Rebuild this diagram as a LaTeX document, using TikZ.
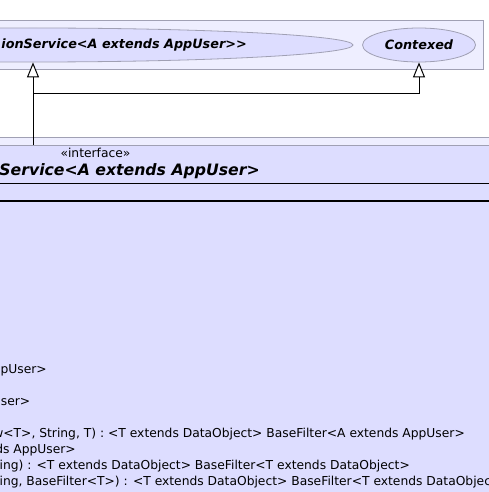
\documentclass[tikz,border=0pt]{standalone}
\usepackage{fontspec}
\setmainfont{DejaVu Sans}[Ligatures=TeXOff]
\usetikzlibrary{shapes.geometric,arrows.meta}
\definecolor{pkgfill}{RGB}{238,238,255}
\definecolor{clsfill}{RGB}{221,221,255}
\definecolor{edgegray}{RGB}{160,160,180}
\tikzset{
  pkgbox/.style={draw=edgegray, fill=pkgfill, line width=0.8pt},
  usecase/.style={ellipse, draw=edgegray, fill=clsfill, inner sep=0pt, line width=0.8pt},
  clsbox/.style={draw=edgegray, fill=clsfill, inner sep=0pt, line width=0.8pt, anchor=north west},
  ifname/.style={font=\fontsize{12.8}{14}\selectfont\bfseries\itshape, inner sep=0pt},
  member/.style={font=\fontsize{12.3}{14}\selectfont, inner sep=0pt},
  inherit/.style={draw=black, line width=1pt, -{Triangle[length=15pt,width=12pt,fill=white]}},
}
\begin{document}
\begin{tikzpicture}[x=1pt,y=-1pt]
\useasboundingbox (0,0) rectangle (489,492);
\clip (0,0) rectangle (489,492);
\fill[white] (0,0) rectangle (489,492);
% upper package
\draw[pkgbox] (-20,20.5) rectangle (483,69);
\node[usecase, minimum width=640pt, minimum height=34pt] (e1) at (33,45) {};
\node[ifname, anchor=base east] (t1) at (247,49) {ionService<A extends AppUser>>};
\node[usecase, minimum width=113pt, minimum height=34pt] (e2) at (419,45) {};
\node[ifname] (t2) at (e2.center) {Contexed};
% lower package
\draw[pkgbox] (-20,137) rectangle (520,520);
\node[clsbox, minimum width=600pt, minimum height=380pt] (cls) at (-60,145) {};
\node[member, anchor=base] (st) at (95.5,157) {«interface»};
\node[font=\fontsize{15.7}{18}\selectfont\bfseries\itshape, inner sep=0pt, anchor=base east] (cname) at (260,175) {Service<A extends AppUser>};
\draw[black, line width=1pt] (-60,183.5) -- (520,183.5);
\draw[black, line width=2pt] (-60,201) -- (520,201);
% members
\node[member, anchor=base east] (m1) at (47,373) {AppUser>};
\node[member, anchor=base east] (m2) at (30.5,405) {User>};
\node[member, anchor=base east] (m3) at (465,437) {View<T>, String, T) : <T extends DataObject> BaseFilter<A extends AppUser>};
\node[member, anchor=base east] (m4) at (76,453) {extends AppUser>};
\node[member, anchor=base east] (m5) at (410,469) {String) : <T extends DataObject> BaseFilter<T extends DataObject>};
\node[member, anchor=base west] (m6) at (m5.base west |- 0,485) {String, BaseFilter<T>) : <T extends DataObject> BaseFilter<T extends DataObject>};
% generalizations
\coordinate (j) at (e1.south |- 0,94);
\draw[inherit] (e1.south |- cls.north) -- (e1.south);
\draw[inherit] (j) -| (e2.south);
\end{tikzpicture}
\end{document}
